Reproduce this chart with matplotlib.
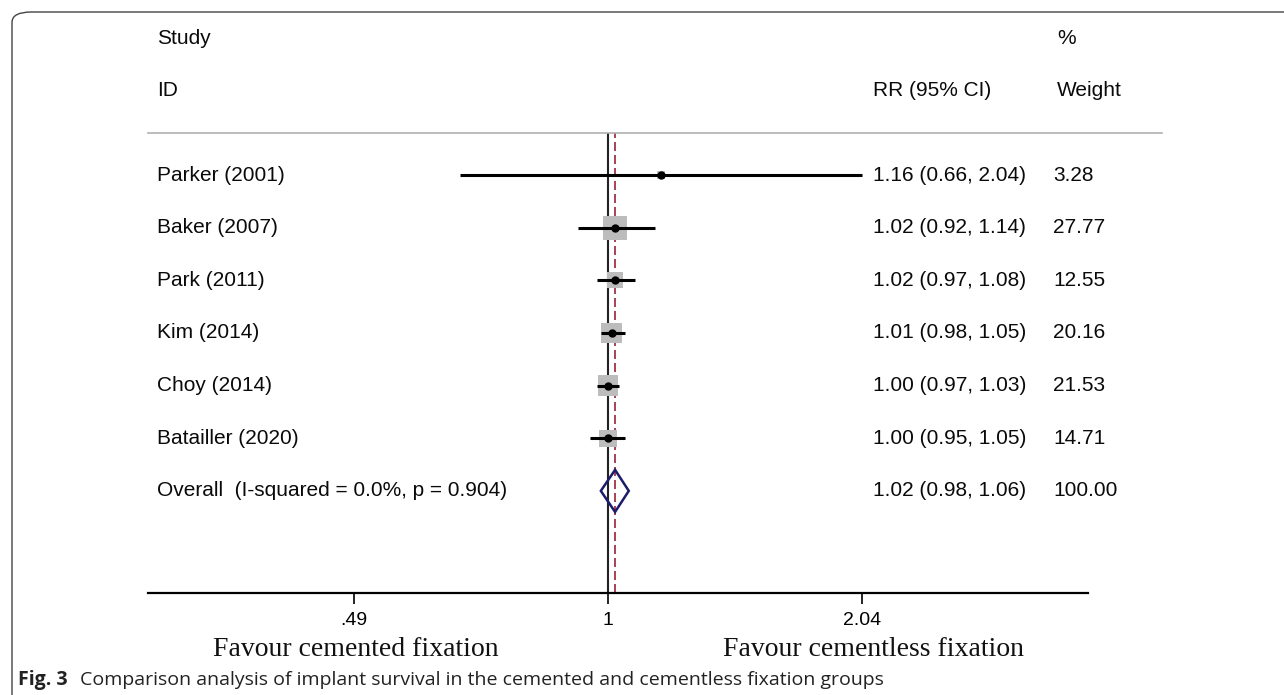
import matplotlib.pyplot as plt
import matplotlib.transforms as mtransforms
from matplotlib.patches import FancyBboxPatch, Polygon
from matplotlib.lines import Line2D

studies = ["Parker (2001)", "Baker (2007)", "Park (2011)", "Kim (2014)",
           "Choy (2014)", "Batailler (2020)"]
rr = [1.16, 1.02, 1.02, 1.01, 1.00, 1.00]
lower = [0.66, 0.92, 0.97, 0.98, 0.97, 0.95]
upper = [2.04, 1.14, 1.08, 1.05, 1.03, 1.05]
weights = [3.28, 27.77, 12.55, 20.16, 21.53, 14.71]

overall_label = "Overall  (I-squared = 0.0%, p = 0.904)"
overall = (1.02, 0.98, 1.06)
overall_weight = 100.00

xticks = [0.49, 1, 2.04]
xticklabels = [".49", "1", "2.04"]

W, H = 1284, 695
fig = plt.figure(figsize=(W / 100, H / 100), dpi=100)


def fx(px):
    return px / W


def fy(py):
    return 1 - py / H


# plot area: x 148..1088 px, y 133..593 px
ax = fig.add_axes([fx(148), fy(593), fx(1088) - fx(148), fy(133) - fy(593)])
ax.set_xscale("log")
ax.set_xlim(0.2747, 3.85)
ax.set_ylim(7.94, -0.8)

rows = list(range(len(studies)))
orow = len(studies)

# reference lines
ax.axvline(1, color="#222222", lw=1.5, zorder=1)
ax.axvline(overall[0], color="#a33344", lw=1.3, dashes=(5, 2.2), zorder=1)

# weight boxes (side ~ sqrt(weight))
sizes = [(4.5 * w ** 0.5 * 0.72) ** 2 for w in weights]
ax.scatter(rr, rows, s=sizes, marker="s", color="#bcbcbc", edgecolor="none", zorder=2)
ax.hlines(rows, lower, upper, color="black", lw=2.2, zorder=3)
ax.plot(rr, rows, "o", color="black", ms=5, zorder=4)

# overall diamond
est, lo, hi = overall
ax.add_patch(Polygon([(lo, orow), (est, orow - 0.4), (hi, orow), (est, orow + 0.4)],
                     closed=True, fill=False, edgecolor="#1c1c6c", lw=1.8, zorder=4))

for s in ["top", "right", "left"]:
    ax.spines[s].set_visible(False)
ax.spines["bottom"].set_linewidth(1.6)
ax.set_yticks([])
ax.set_xticks(xticks)
ax.set_xticklabels(xticklabels, fontsize=14, family="Liberation Sans")
ax.xaxis.set_minor_locator(plt.NullLocator())
ax.tick_params(axis="x", length=8, width=1.2, pad=6)

# text columns
trans = mtransforms.blended_transform_factory(fig.transFigure, ax.transData)
tkw = dict(fontsize=15, family="Liberation Sans", va="center", color="#0a0a0a")
for i, name in enumerate(studies):
    ax.text(fx(157), i, name, transform=trans, **tkw)
    ax.text(fx(873), i, f"{rr[i]:.2f} ({lower[i]:.2f}, {upper[i]:.2f})", transform=trans, **tkw)
    ax.text(fx(1053), i, f"{weights[i]:.2f}", transform=trans, **tkw)
ax.text(fx(157), orow, overall_label, transform=trans, **tkw)
ax.text(fx(873), orow, f"{est:.2f} ({lo:.2f}, {hi:.2f})", transform=trans, **tkw)
ax.text(fx(1053), orow, f"{overall_weight:.2f}", transform=trans, **tkw)

# headers
hkw = dict(fontsize=15, family="Liberation Sans", va="center", color="#0a0a0a")
fig.text(fx(157), fy(38), "Study", **hkw)
fig.text(fx(157), fy(90), "ID", **hkw)
fig.text(fx(873), fy(90), "RR (95% CI)", **hkw)
fig.text(fx(1057), fy(38), "%", **hkw)
fig.text(fx(1057), fy(90), "Weight", **hkw)
fig.add_artist(Line2D([fx(148), fx(1162)], [fy(133), fy(133)], color="#b0b0b0", lw=1.2))

# favour labels
skw = dict(fontsize=20, family="Liberation Serif", ha="center", va="center", color="#111111")
fig.text(fx(356), fy(650), "Favour cemented fixation", **skw)
fig.text(fx(873), fy(650), "Favour cementless fixation", **skw)

# caption
fig.text(fx(18), fy(680), "Fig. 3", fontsize=14, family="Open Sans", weight="bold",
         va="center", color="#222222")
fig.text(fx(80), fy(680), "Comparison analysis of implant survival in the cemented and cementless fixation groups",
         fontsize=14, family="Open Sans", va="center", color="#222222")

# frame
fig.add_artist(FancyBboxPatch((fx(12), fy(760)), fx(1400), fy(12) - fy(760),
                              boxstyle="round,pad=0,rounding_size=0.015",
                              transform=fig.transFigure, fill=False,
                              edgecolor="#444444", lw=1.0))

fig.savefig("out.png", dpi=100)
